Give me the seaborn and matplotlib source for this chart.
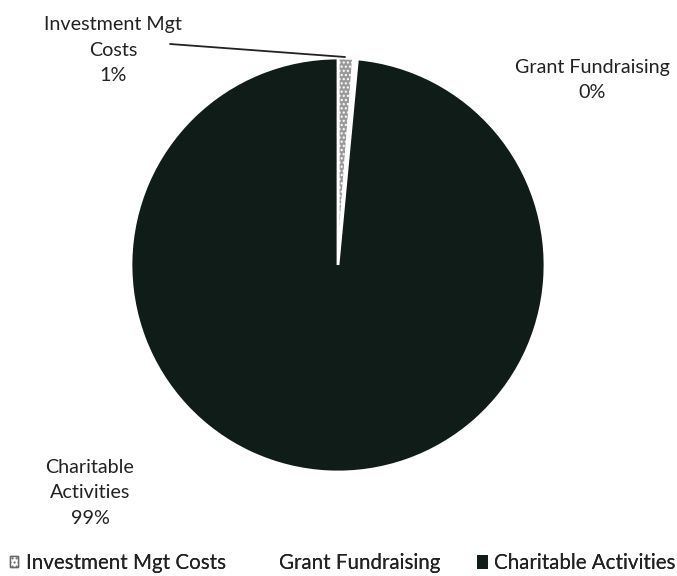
import matplotlib
matplotlib.use("Agg")
import matplotlib.pyplot as plt
import seaborn as sns

categories = ["Investment Mgt Costs", "Grant Fundraising", "Charitable Activities"]
values = [1.2, 0.3, 98.5]
label_names = ["Investment Mgt\nCosts", "Grant Fundraising", "Charitable\nActivities"]

sns.set_theme(style="white")
plt.rcParams['font.family'] = ['Lato', 'DejaVu Sans']

colors = ["#9a9a9a", "#ffffff", "#0f1c18"]
W, H = 677, 576
R = 207.0
cx, cy = 338.0, 265.0

fig = plt.figure(figsize=(6.77, 5.76), dpi=100)
ax = fig.add_axes([0.0, 0.0, 1.0, 1.0])
wedges, _ = ax.pie(values, colors=colors, startangle=90, counterclock=False,
                   wedgeprops=dict(edgecolor="white", linewidth=2.0),
                   center=(0, 0), radius=1.0)
wedges[0].set_hatch("....")
ax.set_aspect("equal")
ax.set_xlim(-cx / R, (W - cx) / R)
ax.set_ylim(-(H - cy) / R, cy / R)


def d(px, py):
    return ((px - cx) / R, (cy - py) / R)


pcts = [f"{int(v + 0.5)}%" for v in values]
fs = 14.2
ls = 1.62
ax.text(*d(113, 50), f"{label_names[0]}\n{pcts[0]}", ha="center", va="center",
        fontsize=fs, color="#222222", linespacing=ls)
p1, p2 = d(170, 44), d(345, 57)
ax.plot([p1[0], p2[0]], [p1[1], p2[1]], color="#222222", lw=1.3, clip_on=False)
ax.text(*d(592, 80), f"{label_names[1]}\n{pcts[1]}", ha="center", va="center",
        fontsize=fs, color="#222222", linespacing=ls)
ax.text(*d(90, 493), f"{label_names[2]}\n{pcts[2]}", ha="center", va="center",
        fontsize=fs, color="#222222", linespacing=ls)

lfs = 14.8
legend_x = [10, 263, 478]
for i, (w, name) in enumerate(zip(wedges, categories)):
    leg = fig.legend([w], [name], loc="center left",
                     bbox_to_anchor=(legend_x[i] / W, 1 - 563 / H),
                     frameon=False, fontsize=lfs, borderaxespad=0, borderpad=0,
                     handlelength=0.4, handleheight=0.4, handletextpad=0.4,
                     labelcolor="#222222")
    h = leg.legend_handles[0]
    if i == 0:
        h.set_facecolor("white")
        h.set_edgecolor("#666666")
        h.set_linewidth(1.0)
    elif i == 1:
        h.set_edgecolor("white")
    else:
        h.set_edgecolor("#0f1c18")
    fig.add_artist(leg)

fig.savefig("out.png", dpi=100)
